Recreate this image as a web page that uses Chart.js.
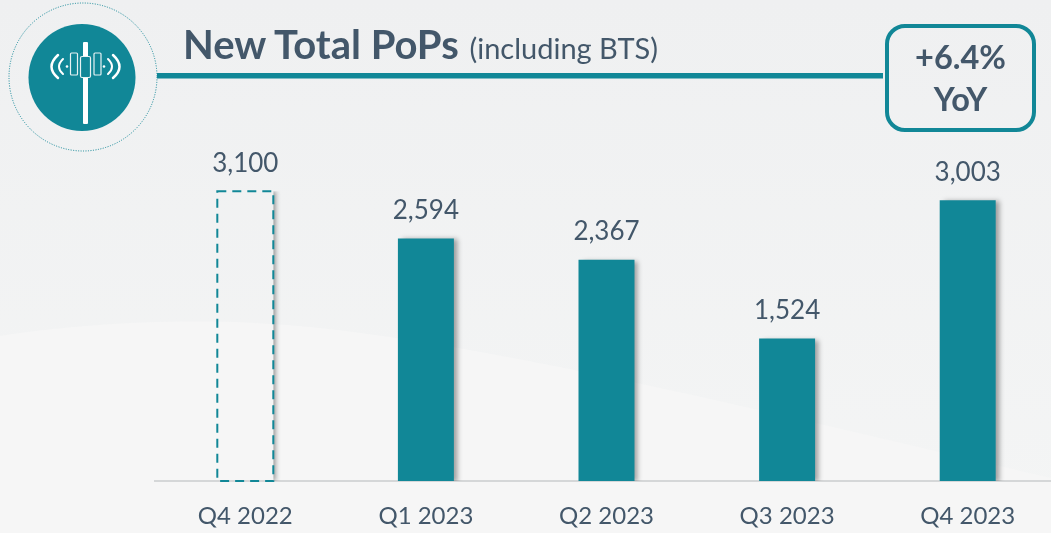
<!DOCTYPE html>
<html>
<head>
<meta charset="utf-8">
<title>New Total PoPs</title>
<script src="https://cdn.jsdelivr.net/npm/chart.js@4"></script>
<style>
  html, body { margin: 0; padding: 0; }
  body {
    width: 1051px; height: 533px; position: relative; overflow: hidden;
    background: linear-gradient(180deg, #eff0f1 0%, #f4f5f5 100%);
    font-family: Lato, "Open Sans", sans-serif; color: #43576a;
  }
  #decor { position: absolute; left: 0; top: 0; }
  #wrap { position: absolute; left: 0; top: 0; width: 1051px; height: 533px; overflow: hidden; }
  #title { position: absolute; left: 183px; top: 19px; font-size: 40px; font-weight: 700; white-space: nowrap; line-height: 50px; }
  #title span { font-size: 29px; font-weight: 400; margin-left: 1px; }
  #yoy {
    position: absolute; left: 885px; top: 24px; width: 143px; height: 100px;
    border: 4px solid #118797; border-radius: 20px; text-align: center;
    font-size: 32.5px; font-weight: 700; line-height: 42px; padding-top: 0;
  }
  #yoy div:first-child { margin-top: 8px; }
</style>
</head>
<body>
<svg id="decor" width="1051" height="533">
  <path d="M0 336 C 90 322, 210 316, 320 328 C 520 350, 800 420, 1051 478 L1051 533 L0 533 Z" fill="#f6f6f6"/>
  <rect x="157" y="73" width="726" height="5.5" fill="#118797"/>
  <circle cx="83" cy="77" r="74" fill="none" stroke="#118797" stroke-width="1" stroke-dasharray="1 1.5"/>
  <circle cx="82" cy="77.5" r="53.5" fill="#118797"/>
  <rect x="83" y="42" width="5" height="82" rx="1" fill="#fff"/>
  <g fill="#118797" stroke="#e6f2f3" stroke-width="1.2">
    <rect x="70.5" y="53" width="7" height="22" rx="1"/>
    <rect x="94" y="53" width="7" height="22" rx="1"/>
    <rect x="80.5" y="56.5" width="10" height="21" rx="1.5"/>
  </g>
  <g fill="none" stroke="#fff" stroke-linecap="round">
    <path d="M58 55 Q45 67 58 78" stroke-width="2.5"/>
    <path d="M63 59 Q55 67 63 74" stroke-width="2"/>
    <path d="M113 55 Q126 67 113 78" stroke-width="2.5"/>
    <path d="M108 59 Q116 67 108 74" stroke-width="2"/>
  </g>
  <circle cx="67" cy="66.5" r="1.3" fill="#fff"/>
  <circle cx="104" cy="66.5" r="1.3" fill="#fff"/>
</svg>
<div id="wrap"><canvas id="chart" width="1058" height="533"></canvas></div>
<div id="title">New Total PoPs <span>(including BTS)</span></div>
<div id="yoy"><div>+6.4%</div><div>YoY</div></div>

<script>
  const categories = ['Q4 2022', 'Q1 2023', 'Q2 2023', 'Q3 2023', 'Q4 2023'];
  const newPops = [3100, 2594, 2367, 1524, 3003];
  const dashedBars = ['Q4 2022'];

  const TEAL = '#118797';
  const TEXT = '#43576a';

  // Soft shadow under the solid bars, dashed outline for the prior-year bar, value labels on top
  const barDecor = {
    id: 'barDecor',
    beforeDatasetsDraw(chart) {
      const ctx = chart.ctx;
      ctx.save();
      ctx.shadowColor = 'rgba(0, 0, 0, 0.35)';
      ctx.shadowBlur = 5;
      ctx.shadowOffsetX = 4;
      ctx.shadowOffsetY = 1;
    },
    afterDatasetsDraw(chart) {
      const ctx = chart.ctx;
      ctx.restore();
      const meta = chart.getDatasetMeta(0);

      meta.data.forEach((bar, i) => {
        const left = bar.x - bar.width / 2;
        const right = bar.x + bar.width / 2;

        if (dashedBars.includes(categories[i])) {
          // shadow only outside the right edge, the box itself stays empty
          ctx.save();
          ctx.beginPath();
          ctx.rect(right, bar.y, 10, bar.base - bar.y);
          ctx.clip();
          ctx.shadowColor = 'rgba(0, 0, 0, 0.4)';
          ctx.shadowBlur = 5;
          ctx.shadowOffsetX = 3;
          ctx.fillStyle = '#f2f3f4';
          ctx.fillRect(left, bar.y, bar.width, bar.base - bar.y);
          ctx.restore();

          ctx.save();
          ctx.strokeStyle = TEAL;
          ctx.lineWidth = 2;
          ctx.setLineDash([9, 6]);
          ctx.strokeRect(left, bar.y, bar.width, bar.base - bar.y);
          ctx.restore();
        }

        ctx.save();
        ctx.fillStyle = TEXT;
        ctx.font = '26px Lato, "Open Sans", sans-serif';
        ctx.textAlign = 'center';
        ctx.textBaseline = 'bottom';
        ctx.fillText(newPops[i].toLocaleString('en-US'), bar.x, bar.y - 15);
        ctx.restore();
      });
    }
  };

  new Chart(document.getElementById('chart'), {
    type: 'bar',
    data: {
      labels: categories,
      datasets: [{
        data: newPops,
        backgroundColor: categories.map(c => dashedBars.includes(c) ? 'rgba(0, 0, 0, 0)' : TEAL),
        barPercentage: 0.31,
        categoryPercentage: 1
      }]
    },
    options: {
      responsive: false,
      animation: false,
      layout: { padding: { left: 155, top: 107, right: 0, bottom: 0 } },
      plugins: { legend: { display: false }, tooltip: { enabled: false } },
      scales: {
        x: {
          grid: { display: false, drawTicks: false },
          border: { color: '#d5d7d8', width: 2 },
          ticks: { color: TEXT, font: { family: 'Lato', size: 24 }, padding: 21, maxRotation: 0 },
          afterFit(scale) { scale.height = 52; }
        },
        y: { display: false, min: 0, max: 4000 }
      }
    },
    plugins: [barDecor]
  });
</script>
</body>
</html>
